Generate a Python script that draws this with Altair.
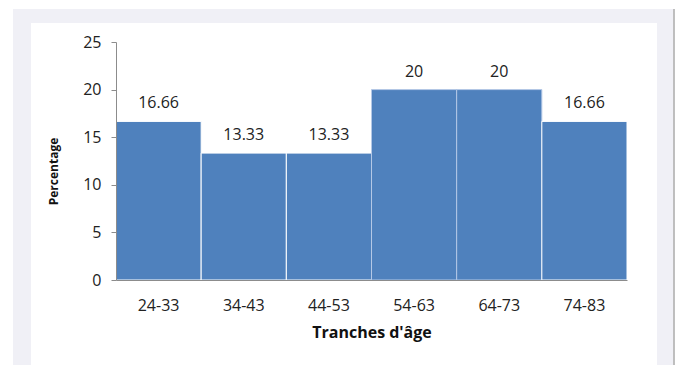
import altair as alt
import pandas as pd

categories = ["24-33", "34-43", "44-53", "54-63", "64-73", "74-83"]
values = [16.66, 13.33, 13.33, 20, 20, 16.66]
labels = ["16.66", "13.33", "13.33", "20", "20", "16.66"]

df = pd.DataFrame({"cat": categories, "val": values, "lab": labels})

FONT = "Open Sans"
W, H = 511, 238

frame_grey = alt.Chart(df).mark_rect(color="#F0F0F6").encode(
    x=alt.value(-103), x2=alt.value(557), y=alt.value(-33), y2=alt.value(330)
)
frame_line = alt.Chart(df).mark_rule(color="#BDBDBD", strokeWidth=1).encode(
    x=alt.value(558), y=alt.value(-33), y2=alt.value(330)
)
frame_white = alt.Chart(df).mark_rect(color="white").encode(
    x=alt.value(-85), x2=alt.value(541), y=alt.value(-19), y2=alt.value(330)
)

x_enc = alt.X(
    "cat:N",
    sort=categories,
    scale=alt.Scale(paddingInner=0, paddingOuter=0),
    axis=alt.Axis(
        title="Tranches d'âge",
        labelAngle=0,
        ticks=False,
        labelPadding=17,
        labelFontSize=16,
        labelFont=FONT,
        labelColor="#222222",
        domainColor="#8C8C8C",
        titleFont=FONT,
        titleFontSize=16,
        titleFontWeight="bold",
        titleColor="#111111",
        titlePadding=11,
        zindex=1,
    ),
)

bars = alt.Chart(df).mark_bar(
    color="#4F81BD", strokeWidth=1
).encode(
    x=x_enc,
    y=alt.Y(
        "val:Q",
        scale=alt.Scale(domain=[0, 25], nice=False),
        axis=alt.Axis(
            title="Percentage",
            values=[0, 5, 10, 15, 20, 25],
            grid=False,
            tickSize=5,
            tickColor="#8C8C8C",
            domainColor="#8C8C8C",
            labelPadding=10,
            labelFontSize=16,
            labelFont=FONT,
            labelColor="#222222",
            titleFont=FONT,
            titleFontSize=12,
            titleFontWeight="bold",
            titleColor="#111111",
            titleX=-63,
            titleY=129,
            titleAngle=-90,
            titleBaseline="middle",
            zindex=1,
        ),
    ),
    stroke=alt.condition(
        alt.FieldOneOfPredicate(field="cat", oneOf=["54-63", "64-73"]),
        alt.value("#B4C8E6"),
        alt.value("white"),
    ),
)

text = alt.Chart(df).mark_text(
    dy=-18, baseline="middle", fontSize=16, font=FONT, color="#222222"
).encode(
    x=alt.X("cat:N", sort=categories),
    y=alt.Y("val:Q"),
    text="lab:N",
)

chart = (
    alt.layer(frame_grey, frame_line, frame_white, bars, text)
    .properties(
        width=W,
        height=H,
        autosize=alt.AutoSizeParams(type="none"),
        padding={"left": 116, "top": 42, "right": 51, "bottom": 85},
        background="white",
    )
    .configure_view(stroke=None)
)

chart.save("out.html", embed_options={"renderer": "svg", "actions": False})
